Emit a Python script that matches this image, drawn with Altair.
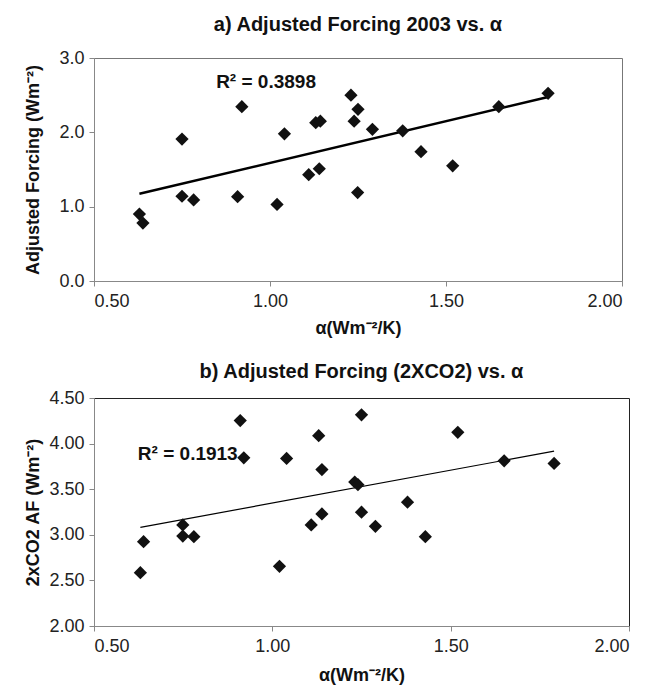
import altair as alt
import pandas as pd

FONT = "Liberation Sans, Arial, Helvetica, sans-serif"

# Panel a: Adjusted forcing 2003 vs alpha
alpha_a = [0.629, 0.639, 0.750, 0.750, 0.783, 0.908, 0.920, 1.020, 1.041, 1.110, 1.130, 1.143,
           1.140, 1.230, 1.239, 1.250, 1.249, 1.291, 1.377, 1.429, 1.519, 1.650, 1.790]
af_2003 = [0.90, 0.78, 1.91, 1.14, 1.09, 1.135, 2.345, 1.03, 1.98, 1.43, 2.13, 2.15,
           1.51, 2.50, 2.15, 2.31, 1.19, 2.04, 2.02, 1.74, 1.55, 2.345, 2.525]

# Panel b: 2xCO2 adjusted forcing vs alpha
alpha_b = [0.630, 0.639, 0.749, 0.749, 0.780, 0.910, 0.920, 1.020, 1.040, 1.109, 1.130, 1.139,
           1.139, 1.231, 1.240, 1.250, 1.250, 1.289, 1.379, 1.429, 1.520, 1.650, 1.790]
af_2xco2 = [2.585, 2.924, 3.108, 2.986, 2.979, 4.253, 3.844, 2.655, 3.837, 3.108, 4.087, 3.715,
            3.229, 3.579, 3.550, 4.316, 3.248, 3.093, 3.358, 2.979, 4.124, 3.811, 3.782]

x_ticks = [0.5, 1.0, 1.5, 2.0]
y_ticks_a = [0.0, 0.5, 1.0, 1.5, 2.0, 2.5, 3.0]
y_ticks_b = [2.0, 2.5, 3.0, 3.5, 4.0, 4.5]

titles = ["a) Adjusted Forcing 2003 vs. α", "b) Adjusted Forcing (2XCO2) vs. α"]
y_titles = ["Adjusted Forcing (Wm⁻²)", "2xCO2 AF (Wm⁻²)"]
x_title = "α(Wm⁻²/K)"
r2_labels = ["R² = 0.3898", "R² = 0.1913"]
r2_pos_a = (0.847, 2.68)
r2_pos_b = (0.623, 3.885)


def panel(alpha, vals, yticks, yfmt, ytitle, title, r2, r2pos, w, h, lw,
          title_offset, x_title_pad, view_stroke):
    df = pd.DataFrame({"alpha": alpha, "v": vals})
    xenc = alt.X("alpha:Q",
                 scale=alt.Scale(domain=[x_ticks[0], x_ticks[-1]], nice=False, zero=False),
                 axis=alt.Axis(values=x_ticks, format=".2f", title=x_title,
                               labelPadding=6, titlePadding=x_title_pad))
    yenc = alt.Y("v:Q",
                 scale=alt.Scale(domain=[yticks[0], yticks[-1]], nice=False, zero=False),
                 axis=alt.Axis(values=yticks, format=yfmt, title=ytitle,
                               labelPadding=5, titleX=-52, titleY=h / 2))
    line = alt.Chart(df).transform_regression("alpha", "v").mark_line(
        color="black", strokeWidth=lw).encode(x=xenc, y=yenc)
    pts = alt.Chart(df).mark_point(shape="diamond", filled=True, size=175,
                                   color="#111", opacity=1).encode(x=xenc, y=yenc)
    ann_df = pd.DataFrame({"alpha": [r2pos[0]], "v": [r2pos[1]], "t": [r2]})
    ann = alt.Chart(ann_df).mark_text(align="left", baseline="middle", font=FONT,
                                      fontSize=19, fontWeight="bold", color="#111").encode(
        x=alt.X("alpha:Q"), y=alt.Y("v:Q"), text="t:N")
    return alt.layer(line, pts, ann).properties(
        width=w, height=h,
        view=alt.ViewBackground(stroke=view_stroke, strokeWidth=1),
        title=alt.TitleParams(text=title, font=FONT, fontSize=20, fontWeight="bold",
                              color="#111", anchor="middle", offset=title_offset),
    )


pa = panel(alpha_a, af_2003, y_ticks_a, ".1f", y_titles[0], titles[0], r2_labels[0],
           r2_pos_a, 528, 223, 2.5, 14, 9, "#777")
pb = panel(alpha_b, af_2xco2, y_ticks_b, ".2f", y_titles[1], titles[1], r2_labels[1],
           r2_pos_b, 535, 228, 1.2, 7, 11, "#222")

chart = alt.vconcat(pa, pb, spacing=23).properties(
    padding={"left": 15, "top": 6, "right": 5, "bottom": 0}
).configure_axis(
    grid=False,
    labelFont=FONT, labelFontSize=18, labelColor="#222",
    titleFont=FONT, titleFontSize=18, titleFontWeight="bold", titleColor="#111",
    domainColor="#888", tickColor="#888", tickSize=5,
).configure_view(stroke="#555")

chart.save("out.html", embed_options={"renderer": "svg", "actions": False})
